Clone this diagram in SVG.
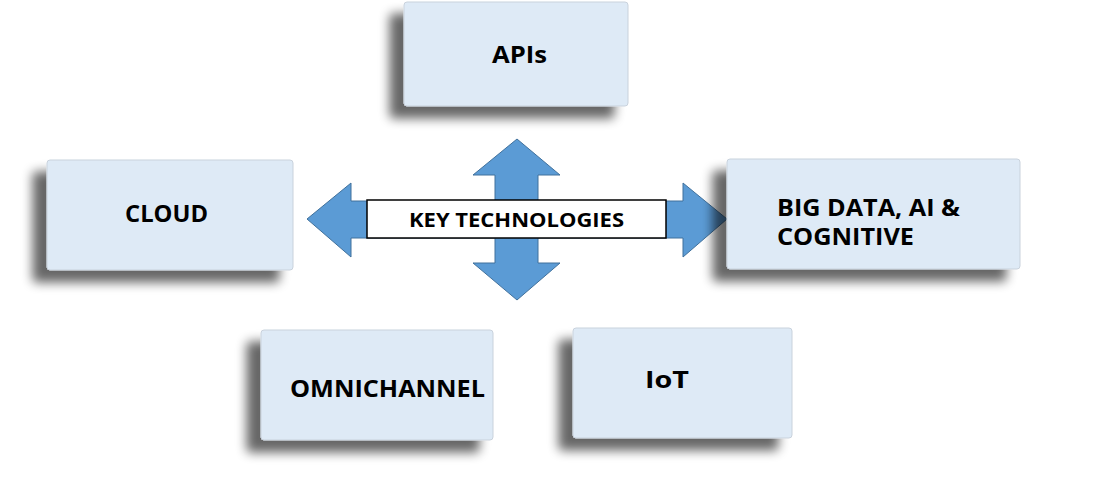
<svg xmlns="http://www.w3.org/2000/svg" width="1110" height="477" viewBox="0 0 1110 477">
<style>
.box{fill:#DEEAF6;stroke:#C9D2DC;stroke-width:1}
.lbl{font-family:"Open Sans","Liberation Sans",sans-serif;font-weight:700;font-size:23px;fill:#000}
.key{font-family:"Open Sans","Liberation Sans",sans-serif;font-weight:700;font-size:20px;fill:#000}
.arrow{fill:#5B9BD5;stroke:#41719C;stroke-width:1}
</style>
<defs>
<filter id="sh" x="-20%" y="-30%" width="140%" height="160%">
<feGaussianBlur in="SourceAlpha" stdDeviation="5.5"/>
<feOffset dx="-14" dy="12" result="b"/>
<feComponentTransfer><feFuncA type="linear" slope="0.6"/></feComponentTransfer>
<feMerge><feMergeNode/><feMergeNode in="SourceGraphic"/></feMerge>
</filter>
</defs>
<rect width="1110" height="477" fill="#fff"/>
<g id="connectors">
<polygon class="arrow" points="517,139 560,175 538,175 538,201 683,201 683,183 727,219 683,257 683,238 538,238 538,263 560,263 517,300 473,263 495,263 495,238 351,238 351,257 307,219 351,183 351,201 495,201 495,175 473,175"/>
</g>
<g id="center">
<rect x="367" y="200" width="299" height="38" fill="#fff" stroke="#000" stroke-width="1.5"/>
<text class="key" x="409" y="227" textLength="215" lengthAdjust="spacingAndGlyphs">KEY TECHNOLOGIES</text>
</g>
<g id="apis">
<rect class="box" x="404" y="2" width="224" height="104" rx="3" filter="url(#sh)"/>
<text class="lbl" x="492" y="63" textLength="55" lengthAdjust="spacingAndGlyphs">APIs</text>
</g>
<g id="cloud">
<rect class="box" x="47" y="160" width="246" height="110" rx="3" filter="url(#sh)"/>
<text class="lbl" x="125" y="222" textLength="83" lengthAdjust="spacingAndGlyphs">CLOUD</text>
</g>
<g id="bigdata">
<rect class="box" x="727" y="159" width="293" height="110" rx="3" filter="url(#sh)"/>
<text class="lbl" x="777" y="216" textLength="183" lengthAdjust="spacingAndGlyphs">BIG DATA, AI &amp;</text>
<text class="lbl" x="777" y="245" textLength="137" lengthAdjust="spacingAndGlyphs">COGNITIVE</text>
</g>
<g id="omni">
<rect class="box" x="261" y="330" width="232" height="110" rx="3" filter="url(#sh)"/>
<text class="lbl" x="290" y="397" textLength="195" lengthAdjust="spacingAndGlyphs">OMNICHANNEL</text>
</g>
<g id="iot">
<rect class="box" x="573" y="328" width="219" height="110" rx="3" filter="url(#sh)"/>
<text class="lbl" x="645" y="388" textLength="44" lengthAdjust="spacingAndGlyphs">IoT</text>
</g>
</svg>
